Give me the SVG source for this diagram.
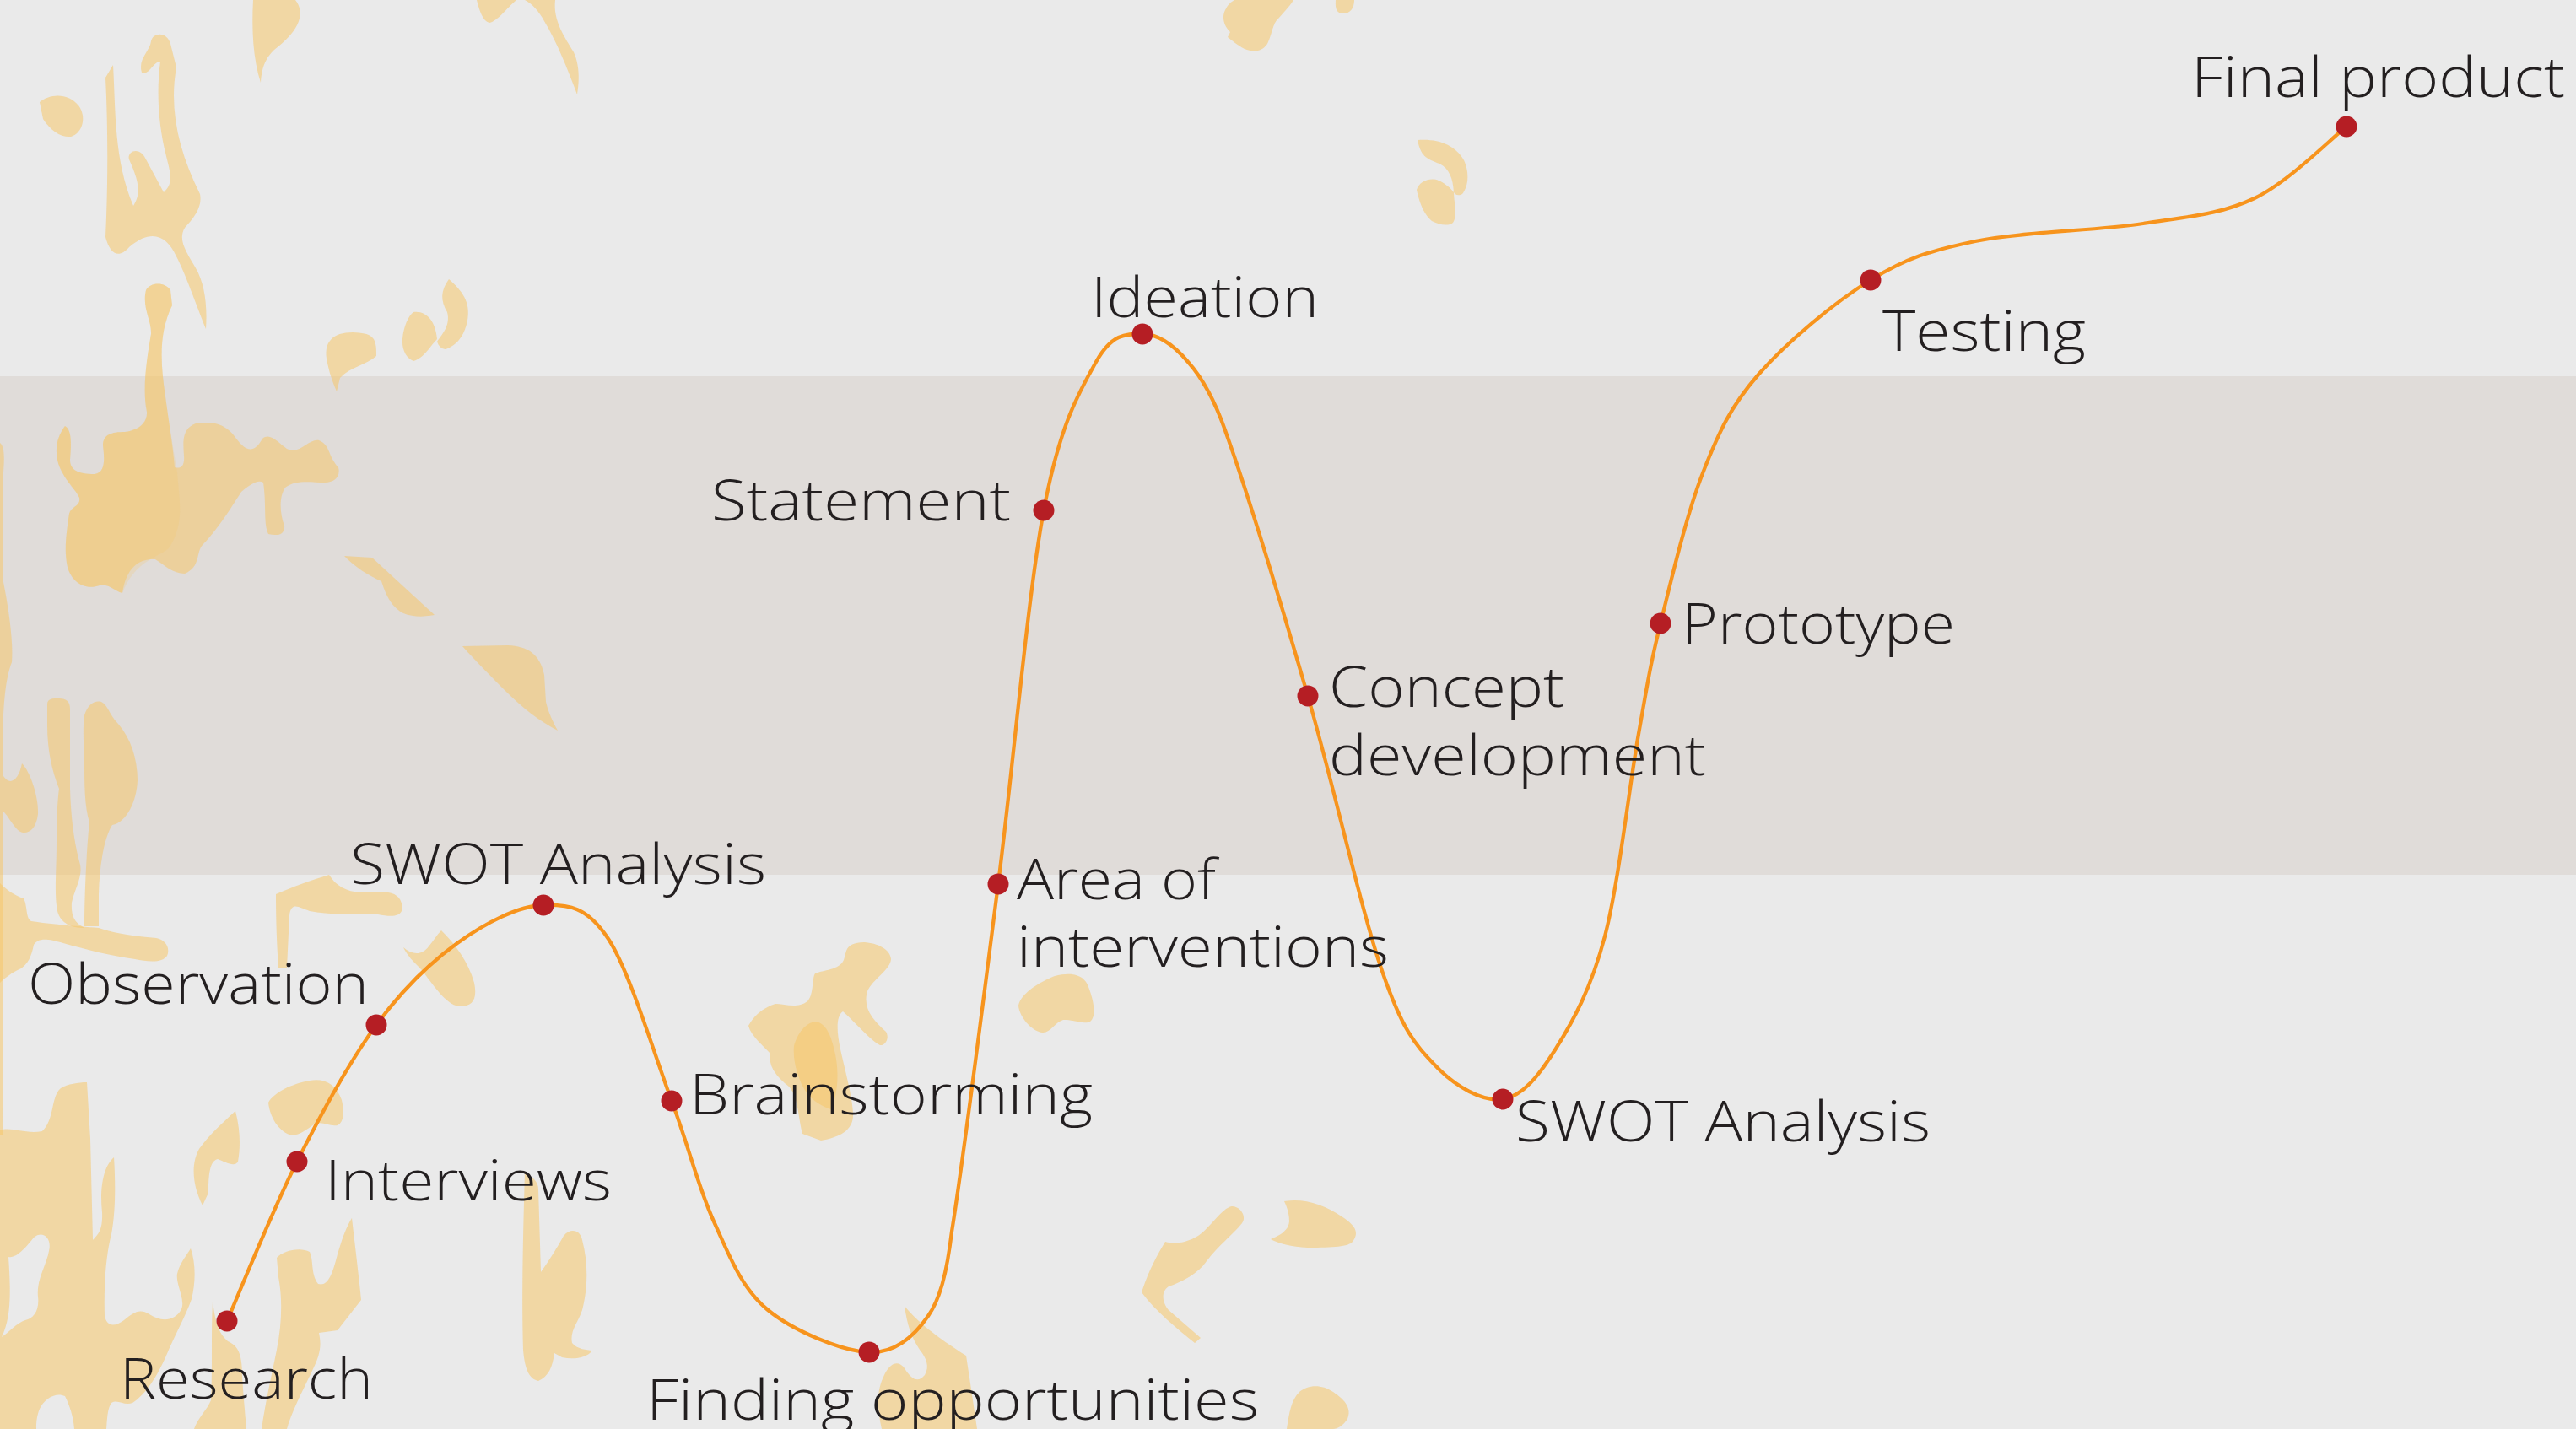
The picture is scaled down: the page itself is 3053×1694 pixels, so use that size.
<svg xmlns="http://www.w3.org/2000/svg" width="3053" height="1694" viewBox="0 0 3053 1694">
<style>
.blob{fill:#F5C76A;fill-opacity:0.55}
.lbl{font-family:"Open Sans","Liberation Sans",sans-serif;font-weight:300;font-size:67px;fill:#231F20}
.dot{fill:#B51E24}
.curve{fill:none;stroke:#F7941D;stroke-width:4.3;stroke-linecap:round;stroke-linejoin:round}
</style>
<rect x="0" y="0" width="3053" height="1694" fill="#EAEAEA"/>
<rect x="0" y="446" width="3053" height="591" fill="#E0DCD9"/>
<g id="background-blobs">
<path class="blob" d="M125,92 L134,77 C137,130 135,190 158,244 C165,232 168,222 153,189 C150,180 165,172 173,189 L194,228 C206,218 202,205 197,185 C188,150 185,110 190,73 C182,72 177,90 168,86 C163,70 178,60 179,49 C181,38 198,37 202,52 L209,80 C200,130 212,180 237,230 C240,245 230,258 219,270 C210,285 222,300 232,318 C242,335 246,360 244,390 C232,360 220,325 209,304 C198,280 180,270 153,293 C140,308 130,300 125,281 C128,220 128,150 125,92 Z"/>
<path class="blob" d="M47,121 C60,111 80,110 93,125 C103,138 98,158 84,162 C72,163 60,155 51,141 Z"/>
<path class="blob" d="M300,0 L350,0 C362,15 355,35 330,55 C312,68 310,85 309,98 C300,70 298,35 300,0 Z"/>
<path class="blob" d="M565,0 L612,0 C600,10 590,25 580,27 C572,25 568,12 565,0 Z"/>
<path class="blob" d="M622,0 L658,0 C655,25 670,45 680,62 C688,80 686,100 684,112 C672,80 660,50 645,25 C638,12 630,4 622,0 Z"/>
<path class="blob" d="M173,344 C178,334 196,334 202,344 L204,362 C188,395 190,430 196,470 C200,500 205,530 207,554 C214,556 219,553 218,540 C217,525 215,508 232,502 C255,498 270,505 280,520 C290,533 300,540 311,520 C320,512 330,525 340,532 C355,540 365,520 378,522 C392,528 388,540 401,554 C404,565 396,572 385,572 C370,572 350,568 338,578 C330,590 332,610 337,623 C338,633 330,636 318,633 C312,620 316,600 312,572 C305,568 296,575 286,583 C275,600 260,625 240,646 C232,655 238,672 219,680 C205,680 195,670 184,663 C165,662 150,672 145,703 C135,700 130,692 118,694 C100,700 85,690 80,672 C76,655 78,635 82,609 C84,600 96,600 94,590 C90,580 72,565 68,545 C64,525 72,512 77,505 C86,510 84,530 83,545 C83,557 92,562 112,562 C125,560 124,545 122,528 C122,515 132,512 148,512 C165,510 175,500 174,488 C168,460 175,420 179,396 C180,380 168,365 173,344 Z"/>
<path class="blob" style="fill-opacity:0.22" d="M173,344 C178,334 196,334 202,344 L204,362 C188,395 190,430 196,470 C200,500 205,530 210,560 C212,590 220,620 200,650 C185,662 160,665 145,703 C135,700 130,692 118,694 C100,700 85,690 80,672 C76,655 78,635 82,609 C84,600 96,600 94,590 C90,580 72,565 68,545 C64,525 72,512 77,505 C86,510 84,530 83,545 C83,557 92,562 112,562 C125,560 124,545 122,528 C122,515 132,512 148,512 C165,510 175,500 174,488 C168,460 175,420 179,396 C180,380 168,365 173,344 Z"/>
<path class="blob" d="M388,430 C382,405 395,394 418,394 C440,395 447,398 446,422 C435,432 415,435 403,448 L399,464 C393,450 390,440 388,430 Z"/>
<path class="blob" d="M477,402 C478,388 484,374 490,370 C505,368 516,380 518,402 C510,410 502,425 490,428 C482,425 476,415 477,402 Z"/>
<path class="blob" d="M518,405 C525,395 534,385 530,370 C522,356 522,345 532,331 C548,345 558,358 554,380 C550,400 540,410 528,414 C522,413 520,410 518,405 Z"/>
<path class="blob" d="M408,659 L441,661 L515,729 C505,731 490,732 478,727 C465,720 458,708 452,689 C438,683 420,672 408,659 Z"/>
<path class="blob" d="M548,766 L602,765 C625,766 640,775 645,800 L647,832 C650,845 655,855 661,866 C640,855 620,840 600,820 C585,805 565,785 548,766 Z"/>
<path class="blob" d="M0,525 C6,530 5,545 4,560 L4,690 C10,720 16,760 14,785 C4,810 2,860 4,920 C12,932 22,925 26,905 C36,915 46,945 45,965 C43,982 35,988 27,987 C18,985 12,970 4,962 L4,1040 C4,1100 3,1200 3,1345 L0,1345 Z"/>
<path class="blob" d="M56,835 C56,828 62,828 70,828 C79,828 83,832 83,840 L83,935 C84,970 88,1000 95,1025 C98,1040 88,1055 85,1070 C84,1085 88,1093 97,1098 L100,1100 C85,1100 72,1095 68,1080 C64,1060 67,1030 67,1000 C67,970 68,950 70,935 C62,915 56,890 56,860 Z"/>
<path class="blob" d="M100,848 C104,835 112,830 120,832 C128,836 130,848 140,858 C155,875 163,900 163,925 C162,950 150,975 133,978 C125,990 118,1020 117,1060 L117,1098 L100,1098 C100,1060 103,1000 106,975 C100,955 100,930 100,900 C99,880 98,862 100,848 Z"/>
<path class="blob" d="M0,1047 C8,1055 18,1062 28,1065 C33,1075 30,1088 37,1092 C55,1095 90,1098 117,1100 C140,1108 165,1110 185,1112 C197,1114 202,1125 198,1133 C192,1142 175,1140 160,1137 C130,1133 100,1125 75,1118 C55,1112 45,1112 40,1120 C37,1135 33,1142 25,1148 C15,1152 5,1160 0,1165 Z"/>
<path class="blob" d="M327,1060 C345,1052 370,1043 390,1037 C398,1050 410,1057 428,1058 L460,1058 C475,1060 478,1072 476,1080 C472,1088 460,1086 448,1084 C420,1083 390,1085 367,1080 C355,1076 345,1068 343,1085 L340,1147 L330,1147 C328,1120 327,1090 327,1060 Z"/>
<path class="blob" d="M478,1123 C488,1132 500,1133 508,1122 C514,1115 518,1108 523,1103 C540,1120 555,1140 562,1165 C566,1185 560,1193 545,1193 C530,1192 515,1170 500,1150 C490,1140 482,1132 478,1123 Z"/>
<path class="blob" fill-rule="evenodd" d="M0,1340 C13,1335 30,1345 50,1341 C65,1327 60,1300 72,1290 C80,1285 93,1283 103,1283 L107,1350 L110,1470 C117,1463 122,1457 121,1437 C118,1410 122,1383 135,1372 C137,1403 137,1437 132,1463 C125,1490 123,1527 124,1560 C126,1570 133,1575 147,1565 C157,1557 165,1550 177,1558 C190,1567 207,1567 215,1552 C220,1540 208,1523 210,1510 C213,1497 222,1487 226,1480 C232,1497 232,1520 227,1540 C220,1560 207,1583 197,1607 C187,1630 173,1653 157,1663 C147,1667 140,1658 132,1663 C127,1670 127,1683 126,1694 L88,1694 C87,1680 83,1667 77,1655 C67,1650 53,1657 47,1670 C43,1680 43,1687 43,1694 L0,1694 Z M10,1490 C20,1492 32,1477 40,1467 C50,1458 62,1467 58,1483 C55,1500 43,1517 45,1537 C47,1553 40,1563 30,1565 C20,1568 10,1580 2,1585 C13,1563 13,1533 10,1490 Z"/>
<path class="blob" d="M240,1429 C228,1405 226,1380 236,1362 C248,1345 265,1330 279,1317 C285,1340 285,1360 282,1377 C278,1384 268,1378 258,1374 C248,1376 247,1395 247,1414 Z"/>
<path class="blob" d="M318,1307 C325,1295 345,1285 367,1281 C385,1278 398,1285 405,1304 C408,1318 408,1330 400,1334 C390,1336 382,1328 372,1333 C362,1340 352,1348 343,1345 C330,1340 320,1325 318,1307 Z"/>
<path class="blob" d="M328,1491 C335,1483 355,1478 367,1484 C372,1495 368,1510 377,1522 C388,1525 393,1514 400,1487 C405,1470 410,1455 417,1444 C420,1470 425,1510 428,1541 L400,1577 L378,1580 C381,1595 380,1605 370,1625 C358,1650 345,1675 340,1694 L310,1694 C315,1660 322,1630 328,1600 C334,1570 335,1540 330,1514 Z"/>
<path class="blob" d="M252,1543 C255,1565 258,1580 270,1590 C282,1595 287,1605 287,1630 C288,1650 290,1670 292,1694 L230,1694 C235,1680 245,1672 250,1660 C252,1620 250,1580 252,1543 Z"/>
<path class="blob" d="M622,1389 C630,1395 638,1400 638,1410 L641,1508 C650,1495 660,1480 668,1465 C676,1455 688,1458 690,1470 C698,1500 696,1530 690,1553 C685,1568 675,1578 678,1592 C685,1600 695,1600 702,1601 C695,1610 680,1612 666,1609 L657,1604 C655,1620 650,1632 638,1637 C628,1635 622,1625 620,1600 C618,1540 620,1460 622,1389 Z"/>
<path class="blob" d="M887,1216 C893,1205 903,1195 919,1190 C930,1190 945,1196 957,1187 C965,1178 962,1160 966,1154 C975,1150 995,1150 1000,1138 C1004,1128 1000,1118 1024,1117 C1040,1118 1055,1125 1056,1137 C1055,1150 1035,1160 1028,1175 C1022,1195 1035,1210 1050,1223 C1055,1232 1048,1240 1043,1239 C1030,1232 1012,1210 999,1199 C990,1205 992,1225 996,1244 C1003,1275 1010,1300 1011,1320 C1012,1340 995,1348 973,1352 L951,1344 C946,1325 946,1300 935,1288 C922,1278 910,1265 913,1249 C905,1240 890,1228 887,1216 Z"/>
<path class="blob" d="M941,1240 C945,1225 955,1212 967,1211 C978,1213 985,1225 990,1250 C995,1275 992,1300 985,1315 C970,1310 955,1300 948,1280 C942,1265 940,1252 941,1240 Z"/>
<path class="blob" d="M1207,1192 C1210,1178 1230,1165 1250,1157 C1270,1152 1285,1155 1290,1170 C1296,1185 1300,1205 1292,1211 C1285,1215 1270,1208 1260,1209 C1250,1212 1245,1225 1235,1224 C1222,1222 1208,1205 1207,1192 Z"/>
<path class="blob" d="M1072,1548 C1085,1565 1110,1585 1145,1607 L1150,1640 L1158,1694 L1045,1694 C1040,1670 1038,1650 1048,1630 C1055,1615 1065,1612 1072,1622 C1080,1635 1088,1640 1096,1630 C1102,1620 1098,1610 1090,1600 C1080,1585 1075,1570 1072,1548 Z"/>
<path class="blob" d="M1353,1532 C1360,1510 1370,1490 1381,1472 C1392,1475 1405,1474 1420,1465 C1435,1455 1448,1432 1460,1430 C1470,1430 1478,1442 1472,1450 C1460,1465 1445,1475 1430,1495 C1420,1510 1400,1520 1385,1525 C1375,1532 1378,1545 1385,1553 L1423,1586 L1416,1592 C1395,1575 1370,1555 1353,1532 Z"/>
<path class="blob" d="M1522,1424 C1545,1420 1570,1428 1590,1442 C1605,1452 1612,1460 1603,1472 C1598,1478 1580,1479 1550,1479 C1530,1478 1515,1474 1506,1469 C1515,1465 1527,1460 1528,1448 C1528,1438 1525,1430 1522,1424 Z"/>
<path class="blob" d="M1525,1694 C1528,1675 1530,1660 1540,1650 C1550,1642 1565,1640 1580,1650 C1595,1660 1602,1670 1597,1682 C1592,1690 1585,1694 1580,1694 Z"/>
<path class="blob" d="M1463,0 L1533,0 C1528,8 1522,14 1515,22 C1508,28 1508,40 1502,52 C1495,62 1485,62 1475,58 C1466,53 1460,48 1455,44 L1458,38 C1450,30 1448,20 1452,12 C1455,6 1458,3 1463,0 Z"/>
<path class="blob" d="M1583,0 L1605,0 C1605,10 1600,16 1592,16 C1585,16 1582,12 1583,0 Z"/>
<path class="blob" d="M1680,166 C1705,164 1725,172 1735,190 C1742,205 1740,222 1733,230 C1728,233 1724,230 1723,228 C1722,212 1718,200 1706,194 C1690,188 1684,185 1680,166 Z"/>
<path class="blob" d="M1679,225 C1682,215 1695,210 1705,214 C1714,218 1720,224 1723,228 C1723,240 1728,255 1722,264 C1716,269 1705,266 1697,262 C1688,255 1682,240 1679,225 Z"/>
</g>
<g id="connectors">
<path class="curve" d="M269,1566 C282.8,1534.5 322.5,1435.5 352,1377 C381.5,1318.5 414.3,1258.2 446,1215 C477.7,1171.8 509,1141.7 542,1118 C575,1094.3 614.2,1073.8 644,1073 C673.8,1072.2 695.7,1074.3 721,1113 C746.3,1151.7 775.2,1249.2 796,1305 C816.8,1360.8 827.2,1406.8 846,1448 C864.8,1489.2 878.3,1526.2 909,1552 C939.7,1577.8 998.2,1601.7 1030,1603 C1061.8,1604.3 1083.7,1583.8 1100,1560 C1114,1540 1122,1510 1128,1460 C1141.8,1374.7 1164.8,1190.5 1183,1048 C1201.2,905.5 1217.7,708.2 1237,605 C1256.3,501.8 1279.5,463.8 1299,429 C1318.5,394.2 1335.8,396 1354,396 C1372.2,396 1391.5,409.5 1408,429 C1424,447 1440,475 1453,513 C1476.7,579 1519.2,718.7 1550,825 C1580.8,931.3 1612.8,1078 1638,1151 C1663.2,1224 1677.2,1237.7 1701,1263 C1724.8,1288.3 1757.2,1306.3 1781,1303 C1804.8,1299.7 1823.8,1275.2 1844,1243 C1864.2,1210.8 1885.7,1172.2 1902,1110 C1918.3,1047.8 1931,931.8 1942,870 C1953,808.2 1955.3,790.5 1968,739 C1980.7,687.5 1998.7,610.2 2018,561 C2037.3,511.8 2050.8,482.2 2084,444 C2117.2,405.8 2174.2,358.3 2217,332 C2259.8,305.7 2287.2,297.2 2341,286 C2394.8,274.8 2484.8,273.5 2540,265 C2595.2,256.5 2631.8,254.2 2672,235 C2712.2,215.8 2762.8,164.2 2781,150"/>
</g>
<g id="n-research"><circle class="dot" cx="269" cy="1566" r="12.5"/><text class="lbl" x="142" y="1658" textLength="300" lengthAdjust="spacingAndGlyphs">Research</text></g>
<g id="n-interviews"><circle class="dot" cx="352" cy="1377" r="12.5"/><text class="lbl" x="385" y="1423" textLength="340" lengthAdjust="spacingAndGlyphs">Interviews</text></g>
<g id="n-observation"><circle class="dot" cx="446" cy="1215" r="12.5"/><text class="lbl" x="33" y="1190" textLength="404" lengthAdjust="spacingAndGlyphs">Observation</text></g>
<g id="n-swot1"><circle class="dot" cx="644" cy="1073" r="12.5"/><text class="lbl" x="415" y="1048" textLength="493" lengthAdjust="spacingAndGlyphs">SWOT Analysis</text></g>
<g id="n-brainstorming"><circle class="dot" cx="796" cy="1305" r="12.5"/><text class="lbl" x="817" y="1321" textLength="478" lengthAdjust="spacingAndGlyphs">Brainstorming</text></g>
<g id="n-finding"><circle class="dot" cx="1030" cy="1603" r="12.5"/><text class="lbl" x="766" y="1683" textLength="726" lengthAdjust="spacingAndGlyphs">Finding opportunities</text></g>
<g id="n-area"><circle class="dot" cx="1183" cy="1048" r="12.5"/><text class="lbl" x="1205" y="1066" textLength="236" lengthAdjust="spacingAndGlyphs">Area of</text><text class="lbl" x="1205" y="1146" textLength="441" lengthAdjust="spacingAndGlyphs">interventions</text></g>
<g id="n-statement"><circle class="dot" cx="1237" cy="605" r="12.5"/><text class="lbl" x="843" y="617" textLength="355" lengthAdjust="spacingAndGlyphs">Statement</text></g>
<g id="n-ideation"><circle class="dot" cx="1354" cy="396" r="12.5"/><text class="lbl" x="1293" y="376" textLength="270" lengthAdjust="spacingAndGlyphs">Ideation</text></g>
<g id="n-concept"><circle class="dot" cx="1550" cy="825" r="12.5"/><text class="lbl" x="1575" y="838" textLength="279" lengthAdjust="spacingAndGlyphs">Concept</text><text class="lbl" x="1575" y="919" textLength="447" lengthAdjust="spacingAndGlyphs">development</text></g>
<g id="n-swot2"><circle class="dot" cx="1781" cy="1303" r="12.5"/><text class="lbl" x="1796" y="1353" textLength="492" lengthAdjust="spacingAndGlyphs">SWOT Analysis</text></g>
<g id="n-prototype"><circle class="dot" cx="1968" cy="739" r="12.5"/><text class="lbl" x="1993" y="763" textLength="324" lengthAdjust="spacingAndGlyphs">Prototype</text></g>
<g id="n-testing"><circle class="dot" cx="2217" cy="332" r="12.5"/><text class="lbl" x="2231" y="416" textLength="241" lengthAdjust="spacingAndGlyphs">Testing</text></g>
<g id="n-final"><circle class="dot" cx="2781" cy="150" r="12.5"/><text class="lbl" x="2597" y="115" textLength="443" lengthAdjust="spacingAndGlyphs">Final product</text></g>
</svg>
